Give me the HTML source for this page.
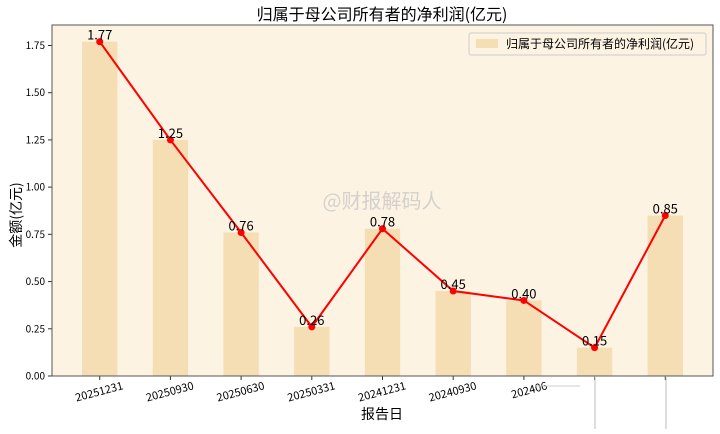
<!DOCTYPE html>
<html><head><meta charset="utf-8"><style>
body{margin:0;background:#fff;}
svg text{font-family:"WenQuanYi Zen Hei","Noto Sans CJK SC","Liberation Sans",sans-serif;}
</style></head><body>
<svg id="chart" width="720" height="429" xmlns="http://www.w3.org/2000/svg">
<rect width="720" height="429" fill="#fff"/>
<text x="382" y="20" text-anchor="middle" font-size="16" fill="#000">归属于母公司所有者的净利润(亿元)</text>
<rect x="52" y="25" width="661" height="351" fill="#fdf3e3"/>
<g id="bars"></g>
<g id="yaxis"></g>
<g id="xaxis"></g>
<g id="line"></g>
<text x="382" y="208" text-anchor="middle" font-size="20" fill="#c8c8c8" fill-opacity="0.8">@财报解码人</text>
<rect x="52" y="25" width="661" height="351" fill="none" stroke="#555" stroke-width="1"/>
<g>
<rect x="469" y="33" width="237" height="22" fill="#fdf3e3" stroke="#ccc" rx="2"/>
<rect x="476" y="39" width="22" height="9" fill="#f5deb3"/>
<text x="506" y="48" font-size="12" fill="#000">归属于母公司所有者的净利润(亿元)</text>
</g>
<text x="382" y="419" text-anchor="middle" font-size="14" fill="#000">报告日</text>
<text transform="translate(21,215) rotate(-90)" text-anchor="middle" font-size="14" fill="#000">金额(亿元)</text>
<line x1="535" y1="386" x2="580" y2="386" stroke="#ccc" stroke-width="1"/>
<line x1="595" y1="376" x2="595" y2="429" stroke="#bbb" stroke-width="1"/>
<line x1="666" y1="376" x2="666" y2="429" stroke="#bbb" stroke-width="1"/>
</svg>
<script>
const categories=["20251231","20250930","20250630","20250331","20241231","20240930","20240630","20240331","20231231"];
const values=[1.77,1.25,0.76,0.26,0.78,0.45,0.40,0.15,0.85];
const yTicks=[0,0.25,0.5,0.75,1.0,1.25,1.5,1.75];
const L=52,R=713,T=25,B=376;
const n=categories.length;
const xmin=-0.25-(n-0.5)*0.05, xmax=(n-1)+0.25+(n-0.5)*0.05;
const ymax=Math.max(...values)*1.05;
const xs=i=>L+(i-xmin)/(xmax-xmin)*(R-L);
const ys=v=>B-v/ymax*(B-T);
const NS="http://www.w3.org/2000/svg";
function mk(tag,attrs,parent,text){const e=document.createElementNS(NS,tag);for(const k in attrs)e.setAttribute(k,attrs[k]);if(text!==undefined)e.textContent=text;parent.appendChild(e);return e;}
const gb=document.getElementById('bars'),gy=document.getElementById('yaxis'),gx=document.getElementById('xaxis'),gl=document.getElementById('line');
values.forEach((v,i)=>{
 const b=mk('rect',{x:xs(i-0.25),y:ys(v),width:xs(0.25)-xs(-0.25),height:B-ys(v),fill:'#f5deb3'},gb);
 
 
});
yTicks.forEach(t=>{
 const y=ys(t);
 const l=mk('line',{x1:L-4,x2:L,y1:y,y2:y,stroke:'#333'},gy);
 
 
 const tx=mk('text',{x:L-7,y:y+3.5,'text-anchor':'end','font-size':'10',fill:'#000'},gy,t.toFixed(2));
 
 
});
categories.forEach((c,i)=>{
 const x=xs(i);
 const l=mk('line',{x1:x,x2:x,y1:B,y2:B+4,stroke:'#333'},gx);
 
 
 if(i<7){
 const tx=mk('text',{transform:`translate(${x+24},${B+13}) rotate(-15)`,'text-anchor':'end','font-size':'11',fill:'#000'},gx,i==6?'202406':c);
 
 
 }
});
const pl=mk('polyline',{points:values.map((v,i)=>xs(i)+','+ys(v)).join(' '),fill:'none',stroke:'#f00','stroke-width':'2'},gl);


values.forEach((v,i)=>{
 const c=mk('circle',{cx:xs(i),cy:ys(v),r:3.5,fill:'#f00'},gl);
 
 
 const t=mk('text',{x:xs(i),y:ys(v)-2,'text-anchor':'middle','font-size':'13',fill:'#000'},gl,v.toFixed(2));
 
 
});
</script>
</body></html>
